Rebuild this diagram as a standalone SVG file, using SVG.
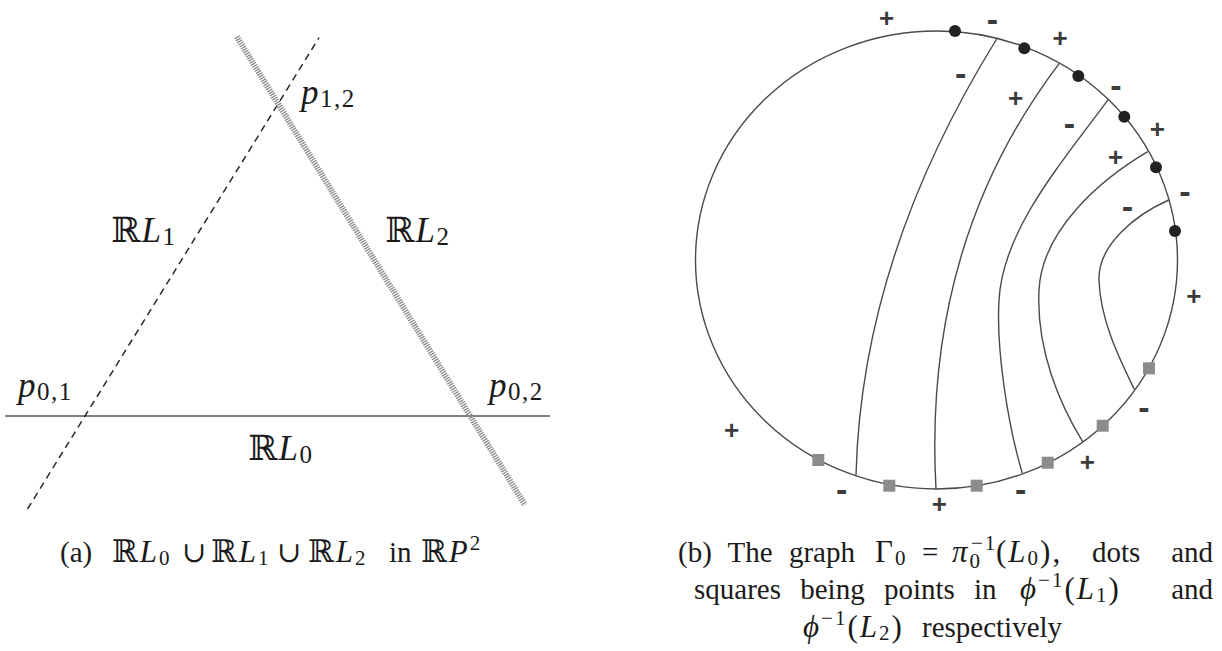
<svg xmlns="http://www.w3.org/2000/svg" width="1222" height="651" viewBox="0 0 1222 651">
<style>
.lbl{font-family:"Liberation Serif","DejaVu Serif",serif;font-size:35px;fill:#1a1a1a;letter-spacing:1.5px}
.sub{font-size:25px}
.cap{font-family:"Liberation Serif","DejaVu Serif",serif;font-size:29px;fill:#1a1a1a}
.m{font-size:31px;letter-spacing:2px}
.cs{font-size:21px}
.ds{font-family:"DejaVu Serif",serif}
.it{font-style:italic}
.l0{fill:none;stroke:#555;stroke-width:1.6}
.l1{fill:none;stroke:#2a2a2a;stroke-width:1.5;stroke-dasharray:7 5}
.l2{fill:none;stroke:#8a8a8a;stroke-width:6;stroke-dasharray:1.3 1.1}
.arc{fill:none;stroke:#4a4a4a;stroke-width:1.4}
.dot{fill:#222}
.sq{fill:#8c8c8c}
.pl{font-family:"Liberation Sans",Arial,sans-serif;font-weight:bold;font-size:26px;fill:#3c3c3c;text-anchor:middle}
.mi{font-family:"Liberation Sans",Arial,sans-serif;font-weight:bold;font-size:34px;fill:#3c3c3c;text-anchor:middle}
</style>
<rect width="1222" height="651" fill="#fff"/>

<g id="fig-a">
  <g id="connectors-a">
    <line class="l0" x1="5" y1="416" x2="550" y2="416"/>
    <line class="l1" x1="27.5" y1="509" x2="319" y2="37.7"/>
    <line class="l2" x1="236.8" y1="36.7" x2="525" y2="505"/>
  </g>
  <g id="label-p12"><text class="lbl" x="301" y="104"><tspan class="it">p</tspan><tspan class="sub" dy="3">1,2</tspan></text></g>
  <g id="label-p01"><text class="lbl" x="18" y="397"><tspan class="it">p</tspan><tspan class="sub" dy="3">0,1</tspan></text></g>
  <g id="label-p02"><text class="lbl" x="489" y="397"><tspan class="it">p</tspan><tspan class="sub" dy="3">0,2</tspan></text></g>
  <g id="label-RL1"><text class="lbl" x="111" y="242"><tspan class="ds">ℝ</tspan><tspan class="it">L</tspan><tspan class="sub" dy="3">1</tspan></text></g>
  <g id="label-RL2"><text class="lbl" x="385" y="242"><tspan class="ds">ℝ</tspan><tspan class="it">L</tspan><tspan class="sub" dy="3">2</tspan></text></g>
  <g id="label-RL0"><text class="lbl" x="248" y="460"><tspan class="ds">ℝ</tspan><tspan class="it">L</tspan><tspan class="sub" dy="3">0</tspan></text></g>
  <g id="caption-a">
    <text class="cap" x="60" y="562">(a)</text>
    <text class="cap m" x="112" y="562"><tspan class="ds">ℝ</tspan><tspan class="it">L</tspan><tspan class="cs" dy="3">0</tspan></text>
    <text class="cap ds" x="182" y="562">∪</text>
    <text class="cap m" x="211" y="562"><tspan class="ds">ℝ</tspan><tspan class="it">L</tspan><tspan class="cs" dy="3">1</tspan></text>
    <text class="cap ds" x="277" y="562">∪</text>
    <text class="cap m" x="308" y="562"><tspan class="ds">ℝ</tspan><tspan class="it">L</tspan><tspan class="cs" dy="3">2</tspan></text>
    <text class="cap" x="389" y="562">in</text>
    <text class="cap m" x="421" y="562"><tspan class="ds">ℝ</tspan><tspan class="it">P</tspan><tspan class="cs" dy="-12">2</tspan></text>
  </g>
</g>

<g id="fig-b">
  <g id="graph-circle"><ellipse class="arc" cx="936.5" cy="260" rx="241" ry="229"/></g>
  <g id="connectors-b">
    <path class="arc" d="M996.7,39 Q861.6,257 856,475"/>
    <path class="arc" d="M1059.3,63.3 Q922.4,243.7 936,489.3"/>
    <path class="arc" d="M1108.3,99.3 C1060,165 1003,230 999,300 C996,350 1008,425 1022.3,473.3"/>
    <path class="arc" d="M1147.7,151.7 C1100,180 1042,230 1039,290 C1036,350 1060,405 1082.7,441.7"/>
    <path class="arc" d="M1168.7,200 C1135,215 1098,245 1099,280 C1100,320 1120,360 1134.3,389.3"/>
  </g>
  <g id="dots">
    <circle class="dot" cx="955" cy="31" r="6"/>
    <circle class="dot" cx="1024.3" cy="48.3" r="6"/>
    <circle class="dot" cx="1078.3" cy="76" r="6"/>
    <circle class="dot" cx="1124.3" cy="116.7" r="6"/>
    <circle class="dot" cx="1156" cy="167.3" r="6"/>
    <circle class="dot" cx="1175" cy="231" r="6"/>
  </g>
  <g id="squares">
    <rect class="sq" x="812.3" y="454" width="12" height="12"/>
    <rect class="sq" x="883.3" y="479.7" width="12" height="12"/>
    <rect class="sq" x="970.7" y="479.7" width="12" height="12"/>
    <rect class="sq" x="1041.7" y="456.7" width="12" height="12"/>
    <rect class="sq" x="1096.7" y="419.7" width="12" height="12"/>
    <rect class="sq" x="1143" y="362.3" width="12" height="12"/>
  </g>
  <g id="signs">
    <text class="pl" x="886.6" y="27.3">+</text>
    <text class="pl" x="1060" y="47.3">+</text>
    <text class="pl" x="1015.7" y="106.7">+</text>
    <text class="pl" x="1157.3" y="138.3">+</text>
    <text class="pl" x="1115.7" y="165.7">+</text>
    <text class="pl" x="1193.8" y="304.7">+</text>
    <text class="pl" x="731.7" y="439">+</text>
    <text class="pl" x="1087.3" y="470.7">+</text>
    <text class="pl" x="939.3" y="513">+</text>
    <text class="mi" x="992.3" y="30.5">-</text>
    <text class="mi" x="960.7" y="84.8">-</text>
    <text class="mi" x="1116" y="97.1">-</text>
    <text class="mi" x="1069.3" y="134.5">-</text>
    <text class="mi" x="1185" y="202.8">-</text>
    <text class="mi" x="1127.3" y="217.8">-</text>
    <text class="mi" x="1144" y="418.8">-</text>
    <text class="mi" x="841.7" y="500.5">-</text>
    <text class="mi" x="1020.7" y="500.5">-</text>
  </g>
  <g id="caption-b">
    <text class="cap" x="678" y="562" word-spacing="9">(b) The graph</text>
    <text class="cap m" x="875" y="562">Γ<tspan class="cs" dy="3">0</tspan></text>
    <text class="cap" x="922" y="562">=</text>
    <text class="cap m" x="952" y="562"><tspan class="it">π</tspan><tspan class="cs" dy="6">0</tspan></text>
    <text class="cap m" x="971" y="550"><tspan class="cs">−1</tspan></text>
    <text class="cap m" x="996" y="562">(<tspan class="it">L</tspan><tspan class="cs" dy="3">0</tspan><tspan dy="-3">),</tspan></text>
    <text class="cap" x="1092" y="562">dots</text>
    <text class="cap" x="1213" y="562" text-anchor="end">and</text>
    <text class="cap" x="694" y="599" word-spacing="12">squares being points in</text>
    <text class="cap m" x="1020" y="599"><tspan class="it">ϕ</tspan><tspan class="cs" dy="-12">−1</tspan><tspan dy="12">(</tspan><tspan class="it">L</tspan><tspan class="cs" dy="3">1</tspan><tspan dy="-3">)</tspan></text>
    <text class="cap" x="1213" y="599" text-anchor="end">and</text>
    <text class="cap m" x="803" y="637"><tspan class="it">ϕ</tspan><tspan class="cs" dy="-12">−1</tspan><tspan dy="12">(</tspan><tspan class="it">L</tspan><tspan class="cs" dy="3">2</tspan><tspan dy="-3">)</tspan></text>
    <text class="cap" x="922" y="637">respectively</text>
  </g>
</g>
</svg>
